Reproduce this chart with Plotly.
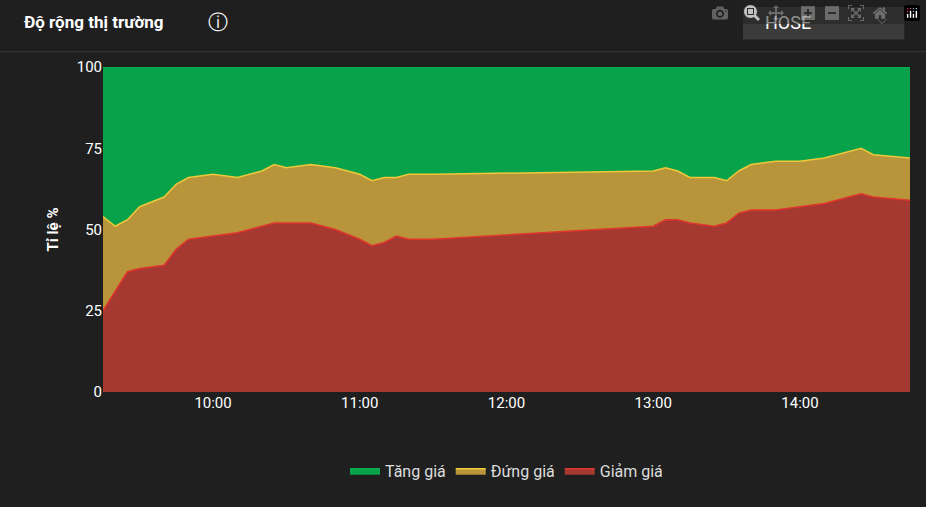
import plotly.graph_objects as go

times = ["09:15", "09:20", "09:25", "09:30", "09:40", "09:45", "09:50", "10:00", "10:10",
         "10:20", "10:25", "10:30", "10:40", "10:50", "11:00", "11:05", "11:10", "11:15",
         "11:20", "11:30", "13:00", "13:05", "13:10", "13:15", "13:25", "13:30", "13:35",
         "13:40", "13:50", "14:00", "14:10", "14:20", "14:25", "14:30", "14:45"]
giam = [25, 31, 37, 38, 39, 44, 47, 48, 49, 51, 52, 52, 52, 50, 47, 45, 46, 48,
        47, 47, 51, 53, 53, 52, 51, 52, 55, 56, 56, 57, 58, 60, 61, 60, 59]
dung = [29, 20, 16, 19, 21, 20, 19, 19, 17, 17, 18, 17, 18, 19, 20, 20, 20, 18,
        20, 20, 17, 16, 15, 14, 15, 13, 13, 14, 15, 14, 14, 14, 14, 13, 13]
tang = [100 - a - b for a, b in zip(giam, dung)]

x = ["2024-01-01 " + t for t in times]

fig = go.Figure()
fig.add_trace(go.Scatter(x=x, y=giam, name="Giảm giá", stackgroup="one", mode="lines",
                         line=dict(color="#e0362c", width=1.5), fillcolor="#a53831"))
fig.add_trace(go.Scatter(x=x, y=dung, name="Đứng giá", stackgroup="one", mode="lines",
                         line=dict(color="#f0c93a", width=1.5), fillcolor="#b8953a"))
fig.add_trace(go.Scatter(x=x, y=tang, name="Tăng giá", stackgroup="one", mode="lines",
                         line=dict(color="#07c257", width=1), fillcolor="#07a24a"))

fig.update_layout(
    width=926, height=507,
    paper_bgcolor="#1f1f1f", plot_bgcolor="#1f1f1f",
    margin=dict(l=103, r=16, t=67, b=115),
    font=dict(family="Roboto", color="#ffffff", size=15),
    showlegend=True,
    legend=dict(orientation="h", x=0.5, xanchor="center", y=-0.19, yanchor="top",
                traceorder="reversed", font=dict(size=16, color="#dddddd")),
    xaxis=dict(range=["2024-01-01 09:15", "2024-01-01 14:45"], showgrid=False,
               tickformat="%H:%M", dtick=3600000, tick0="2024-01-01 10:00",
               tickfont=dict(size=15, color="#ffffff"), zeroline=False),
    yaxis=dict(range=[0, 100], tickvals=[0, 25, 50, 75, 100], showgrid=False,
               title=dict(text="<b>Tỉ lệ %</b>", font=dict(size=15), standoff=14),
               ticklen=8, tickcolor="#1f1f1f",
               tickfont=dict(size=15), zeroline=False),
    shapes=[
        dict(type="line", xref="paper", yref="paper", x0=-0.15, x1=1.03, y0=1.047, y1=1.047,
             line=dict(color="#3a3a3a", width=1)),
        dict(type="rect", xref="paper", yref="paper", x0=0.793, x1=0.993, y0=1.085, y1=1.185,
             fillcolor="#3b3b3b", line=dict(width=0)),
    ],
    annotations=[
        dict(text="<b>Độ rộng thị trường</b>", xref="paper", yref="paper", x=-0.1, y=1.14,
             xanchor="left", yanchor="middle", showarrow=False, font=dict(size=17)),
        dict(text="ⓘ", xref="paper", yref="paper", x=0.128, y=1.14, xanchor="left",
             yanchor="middle", showarrow=False, font=dict(size=20)),
        dict(text="HOSE", xref="paper", yref="paper", x=0.818, y=1.138, xanchor="left",
             yanchor="middle", showarrow=False, font=dict(size=18)),
        dict(text="⌵", xref="paper", yref="paper", x=0.965, y=1.145, xanchor="center",
             yanchor="middle", showarrow=False, font=dict(size=13, color="#cccccc")),
    ],
)

fig.write_html("out.html", post_script="document.body.style.margin='0';")
